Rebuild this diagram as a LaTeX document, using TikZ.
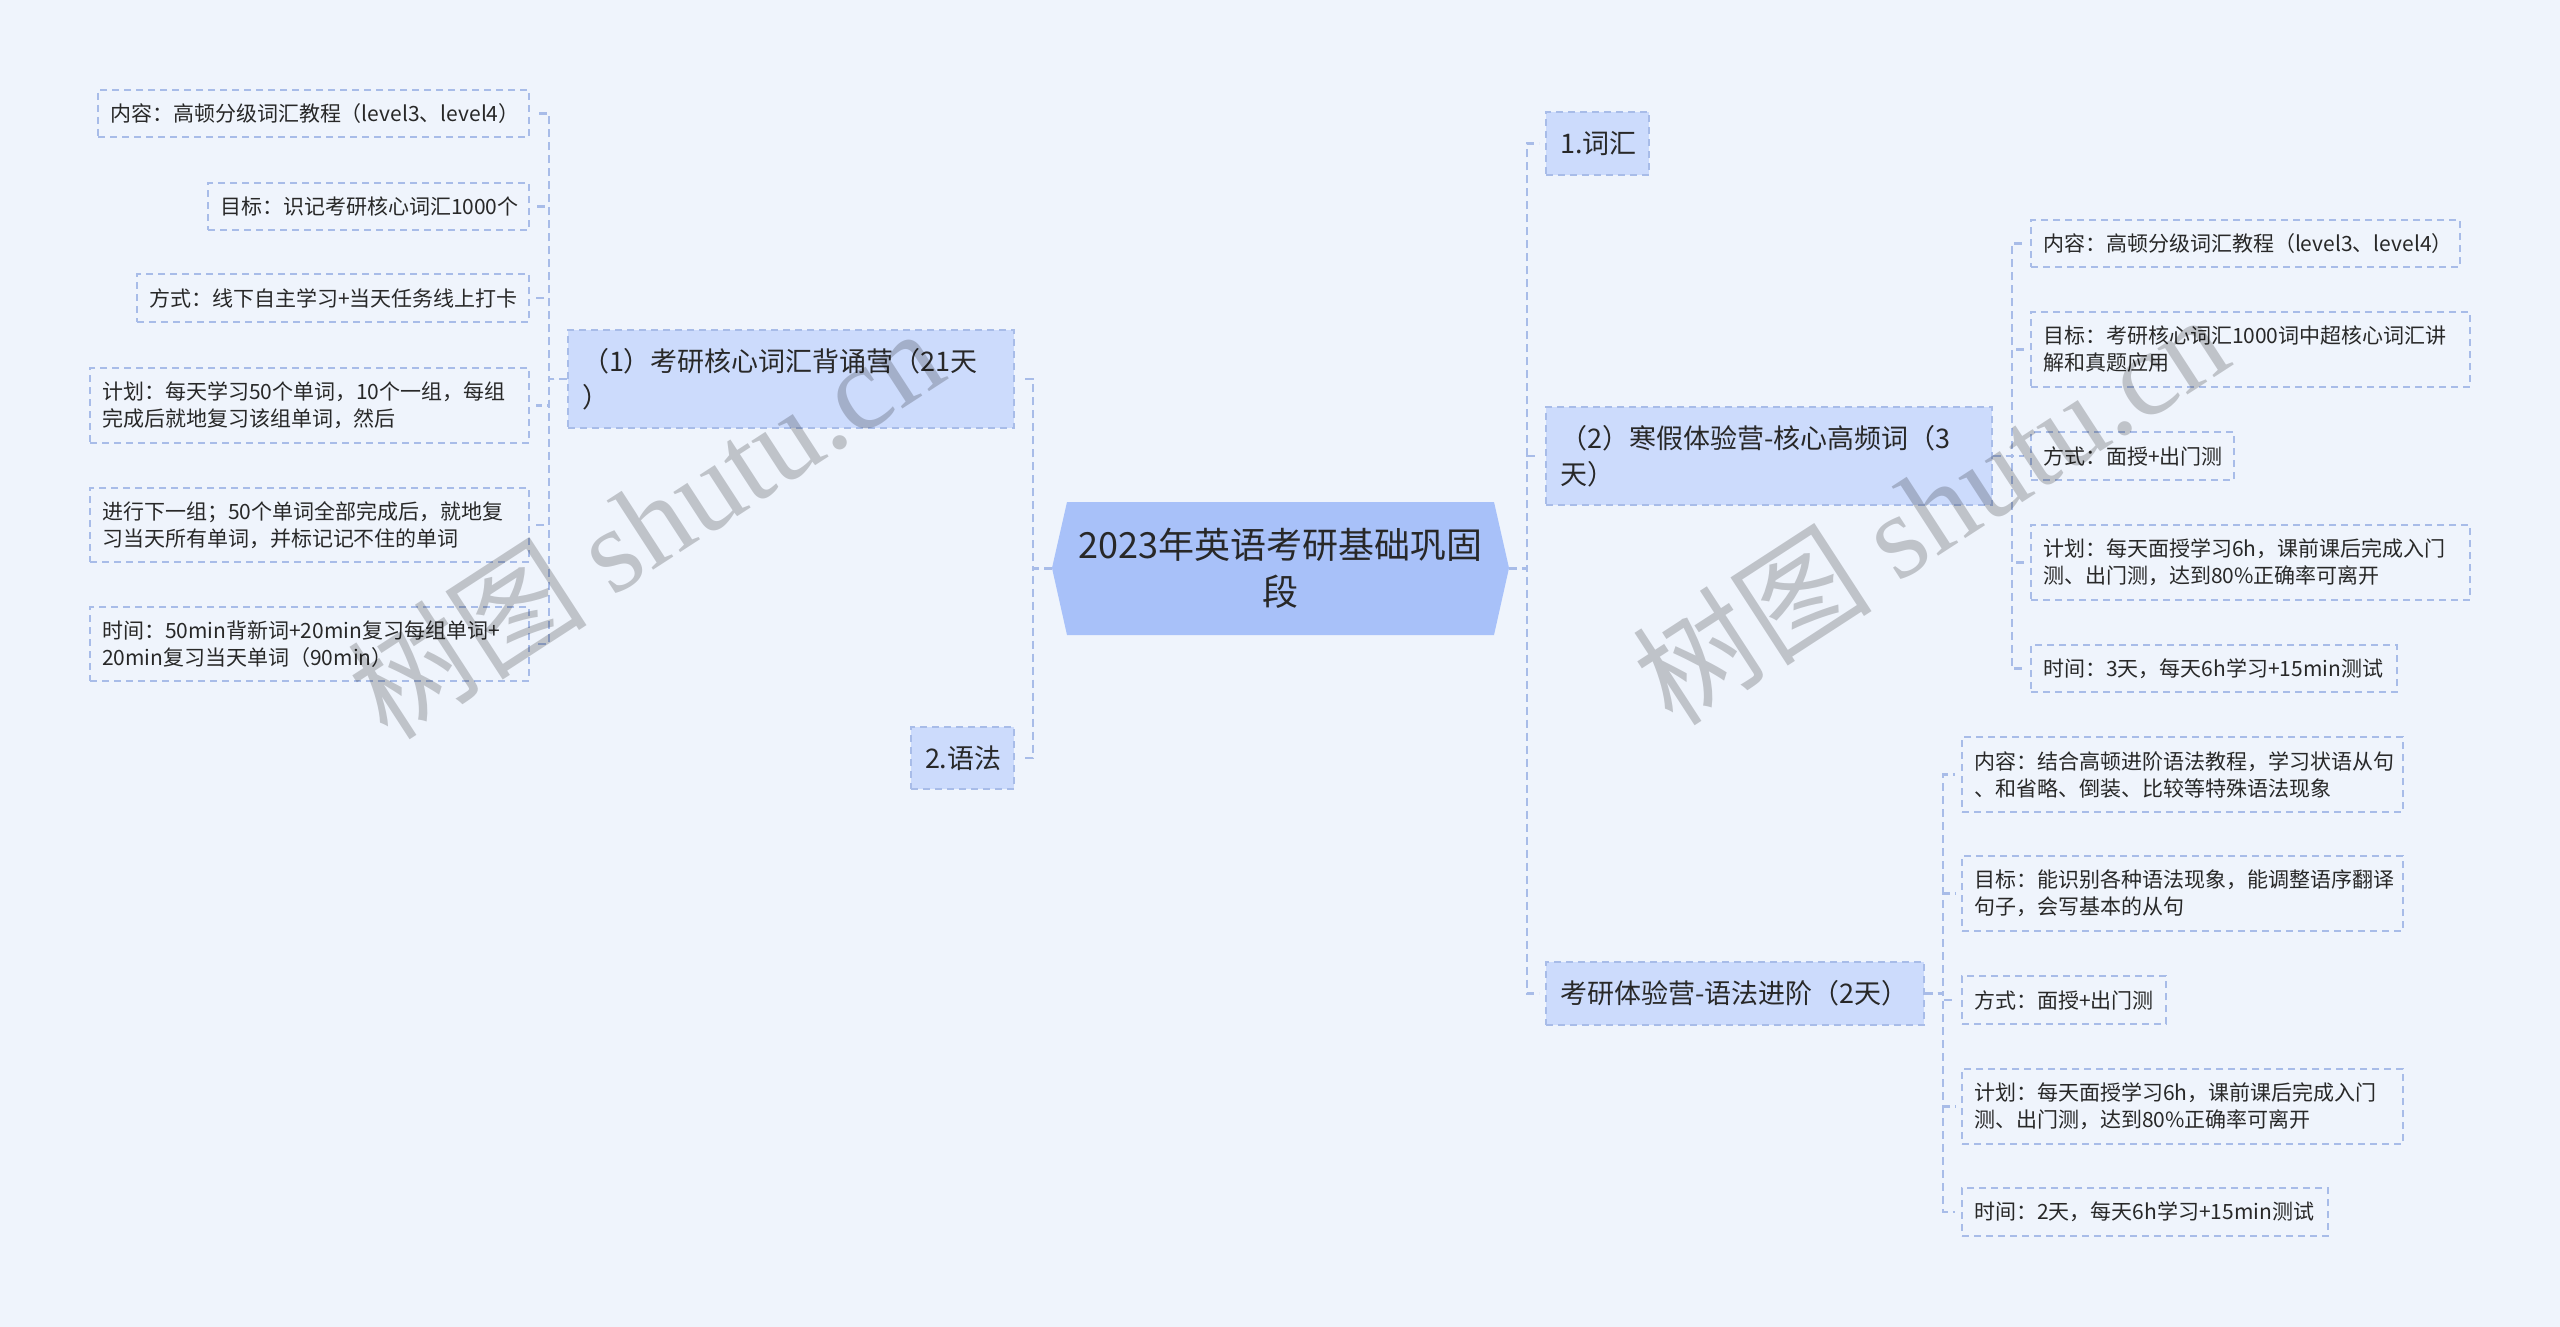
\documentclass[tikz,border=0pt]{standalone}
\usepackage{fontspec}
\setmainfont{Noto Sans CJK SC}
\newfontfamily\wmlatin{Liberation Serif}
\usetikzlibrary{calc}
\definecolor{bgc}{RGB}{239,244,252}
\definecolor{rootc}{RGB}{168,193,249}
\definecolor{lvc}{RGB}{204,219,252}
\definecolor{bordc}{RGB}{168,188,232}
\definecolor{txtc}{RGB}{40,40,40}
\begin{document}
\begin{tikzpicture}[x=1pt,y=-1pt,
  conn/.style={draw=bordc, line width=2.2pt, dash pattern=on 8pt off 5pt, shorten >=6pt},
  leafbox/.style={draw=bordc, line width=1.6pt, dash pattern=on 7pt off 5pt, inner xsep=12pt, inner ysep=0pt, align=left, text=txtc, font=\fontsize{21}{27}\selectfont},
  lvbox/.style={fill=lvc, draw=bordc, line width=1.6pt, dash pattern=on 7pt off 5pt, inner xsep=14pt, inner ysep=0pt, align=left, text=txtc, font=\fontsize{27}{36}\selectfont},
  rootbox/.style={inner sep=0pt, minimum width=457pt, minimum height=133pt, align=center, text=txtc, font=\fontsize{36}{47}\selectfont},
  wm/.style={text=black, text opacity=0.2, font=\fontsize{120}{120}\selectfont}
]
\fill[bgc] (0,0) rectangle (2560,1327);
\useasboundingbox (0,0) rectangle (2560,1327);

% root
\fill[rootc] (1067,502) -- (1494,502) -- (1509,568) -- (1494,635) -- (1067,635) -- (1052,568) -- cycle;
\node[rootbox] (root) at (1280.5,568.5) {2023年英语考研基础巩固\\段};

% bus coordinates
\coordinate (busA) at (1033,0);
\coordinate (busB) at (549,0);
\coordinate (busC) at (1527,0);
\coordinate (busD) at (2012,0);
\coordinate (busE) at (1943,0);

% left level 1
\node[lvbox, text width=418pt, minimum height=98pt] (N1) at (791,379) {（1）考研核心词汇背诵营（21天\\）};
\node[lvbox, text width=75pt, minimum height=62pt] (N2) at (962.5,758) {2.语法};

% left leaves
\node[leafbox, text width=407pt, minimum height=47pt] (L1) at (313.5,113.5) {内容：高顿分级词汇教程（level3、level4）};
\node[leafbox, text width=297pt, minimum height=47pt] (L2) at (368.5,206.5) {目标：识记考研核心词汇1000个};
\node[leafbox, text width=368pt, minimum height=48pt] (L3) at (333,298) {方式：线下自主学习+当天任务线上打卡};
\node[leafbox, text width=415pt, minimum height=75pt] (L4) at (309.5,405.5) {计划：每天学习50个单词，10个一组，每组\\完成后就地复习该组单词，然后};
\node[leafbox, text width=415pt, minimum height=74pt] (L5) at (309.5,525) {进行下一组；50个单词全部完成后，就地复\\习当天所有单词，并标记记不住的单词};
\node[leafbox, text width=415pt, minimum height=74pt] (L6) at (309.5,644) {时间：50min背新词+20min复习每组单词+\\20min复习当天单词（90min）};

% right level 1
\node[lvbox, text width=75pt, minimum height=63pt] (R1) at (1597.5,143.5) {1.词汇};
\node[lvbox, text width=418pt, minimum height=98pt] (R2) at (1769,456) {（2）寒假体验营-核心高频词（3\\天）};
\node[lvbox, text width=350pt, minimum height=63pt] (R3) at (1735,993.5) {考研体验营-语法进阶（2天）};

% right leaves of R2
\node[leafbox, text width=405pt, minimum height=47pt] (A1) at (2245.5,243.5) {内容：高顿分级词汇教程（level3、level4）};
\node[leafbox, text width=415pt, minimum height=75pt] (A2) at (2250.5,349.5) {目标：考研核心词汇1000词中超核心词汇讲\\解和真题应用};
\node[leafbox, text width=179pt, minimum height=48pt] (A3) at (2132.5,456) {方式：面授+出门测};
\node[leafbox, text width=415pt, minimum height=75pt] (A4) at (2250.5,562.5) {计划：每天面授学习6h，课前课后完成入门\\测、出门测，达到80\%正确率可离开};
\node[leafbox, text width=342pt, minimum height=47pt] (A5) at (2214,668.5) {时间：3天，每天6h学习+15min测试};

% right leaves of R3
\node[leafbox, text width=417pt, minimum height=75pt] (B1) at (2182.5,774.5) {内容：结合高顿进阶语法教程，学习状语从句\\、和省略、倒装、比较等特殊语法现象};
\node[leafbox, text width=417pt, minimum height=75pt] (B2) at (2182.5,893.5) {目标：能识别各种语法现象，能调整语序翻译\\句子，会写基本的从句};
\node[leafbox, text width=180pt, minimum height=48pt] (B3) at (2064,1000) {方式：面授+出门测};
\node[leafbox, text width=417pt, minimum height=75pt] (B4) at (2182.5,1106.5) {计划：每天面授学习6h，课前课后完成入门\\测、出门测，达到80\%正确率可离开};
\node[leafbox, text width=342pt, minimum height=48pt] (B5) at (2145,1212) {时间：2天，每天6h学习+15min测试};

% connectors
\foreach \c in {N1,N2} \draw[conn] (root.west) -- (root.west -| busA) |- (\c.east);
\foreach \c in {L1,L2,L3,L4,L5,L6} \draw[conn] (N1.west) -- (N1.west -| busB) |- (\c.east);
\foreach \c in {R1,R2,R3} \draw[conn] (root.east) -- (root.east -| busC) |- (\c.west);
\foreach \c in {A1,A2,A3,A4,A5} \draw[conn] (R2.east) -- (R2.east -| busD) |- (\c.west);
\foreach \c in {B1,B2,B3,B4,B5} \draw[conn] (R3.east) -- (R3.east -| busE) |- (\c.west);

% watermarks
\node[wm, rotate=33] (wm1) at (645,522) {树图 {\wmlatin shutu.cn}};
\node[wm, rotate=33] (wm2) at (1930,508) {树图 {\wmlatin shutu.cn}};
\end{tikzpicture}
\end{document}
